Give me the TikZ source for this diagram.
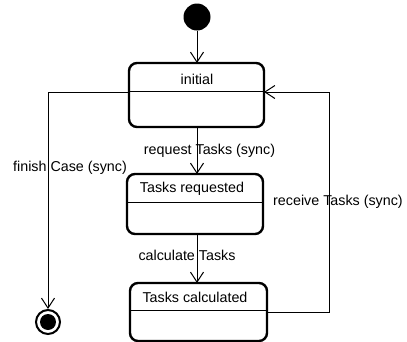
\documentclass[tikz,border=0pt]{standalone}
\usepackage{fontspec}
\setmainfont{Liberation Sans}
\usetikzlibrary{arrows.meta}
\begin{document}
\begin{tikzpicture}[x=1bp,y=-1bp,
  statebox/.style={draw, line width=2.4bp, rounded corners=8bp, inner sep=0pt, outer sep=0pt},
  divider/.style={line width=1bp},
  ttl/.style={inner sep=0pt, font=\fontsize{14.3bp}{17bp}\selectfont},
  lbl/.style={inner sep=0pt, font=\fontsize{14.3bp}{17bp}\selectfont},
  conn/.style={line width=1bp, -{Straight Barb[length=10bp,width=13bp,line width=1bp]}},
  line/.style={line width=1bp}]
\useasboundingbox (0,0) rectangle (407,342);
% start and final
\node[circle, fill=black, minimum size=27bp, inner sep=0pt] (start) at (197,17) {};
\node[circle, draw, line width=2bp, minimum size=24bp, inner sep=0pt] (fin) at (48,322) {};
\node[circle, fill=black, minimum size=16bp, inner sep=0pt] (finIn) at (48,322) {};
% states
\node[statebox, minimum width=135bp, minimum height=64bp] (init) at (196.5,95) {};
\draw[divider] (init.west |- 0,91) -- (init.east |- 0,91);
\node[ttl] (initT) at (197,79) {initial};
\node[statebox, minimum width=136bp, minimum height=60bp] (req) at (195,204) {};
\draw[divider] (req.west |- 0,202) -- (req.east |- 0,202);
\node[ttl] (reqT) at (192,189) {Tasks requested};
\node[statebox, minimum width=137bp, minimum height=58bp] (calc) at (198.5,312) {};
\draw[divider] (calc.west |- 0,310) -- (calc.east |- 0,310);
\node[ttl] (calcT) at (195,297) {Tasks calculated};
% connectors
\draw[conn] (start.south -| 197,0) -- (init.north -| 197,0);
\draw[conn] (init.south -| 197,0) -- (req.north -| 197,0);
\draw[conn] (req.south -| 197,0) -- (calc.north -| 197,0);
\draw[conn] (init.west |- 0,92) -| (fin.north);
\coordinate (loopB) at (329,312);
\coordinate (loopT) at (329,92);
\draw[conn] (calc.east |- loopB) -- (loopB) -- (loopT) -- (init.east |- loopT);
% labels
\node[lbl] (l1) at (209.5,151) {request Tasks (sync)};
\node[lbl] (l2) at (70,168) {finish Case (sync)};
\node[lbl] (l3) at (338,202) {receive Tasks (sync)};
\node[lbl] (l4) at (187,255) {calculate Tasks};
\end{tikzpicture}
\end{document}
